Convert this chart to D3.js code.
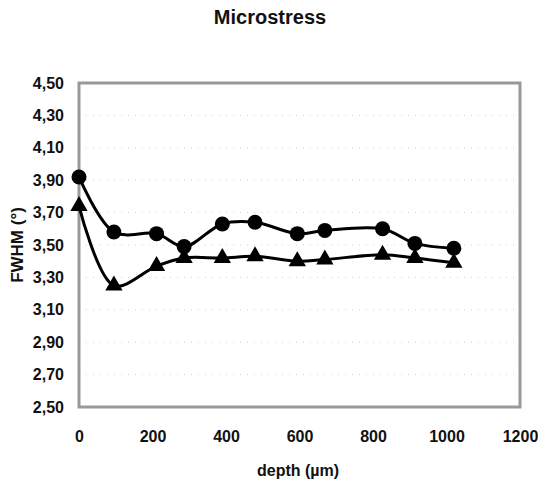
<!DOCTYPE html>
<html lang="en">
<head>
<meta charset="UTF-8">
<title>Microstress</title>
<style>
    body { margin: 0; background: #fff; }
    svg text { font-family: 'Liberation Sans', Arial, sans-serif; font-weight: bold; fill: #111; }
</style>
</head>
<body>
<svg id="chart" width="538" height="484"></svg>
<script src="https://d3js.org/d3.v7.min.js"></script>
<script>
    // depth in µm
    const depthCircles = [0, 95, 211, 286, 390, 479, 594, 669, 826, 914, 1020];
    const fwhmCircles = [3.92, 3.58, 3.57, 3.49, 3.63, 3.64, 3.57, 3.59, 3.60, 3.51, 3.48];
    const depthTriangles = [0, 95, 211, 286, 390, 479, 594, 669, 826, 914, 1020];
    const fwhmTriangles = [3.74, 3.25, 3.37, 3.42, 3.42, 3.43, 3.40, 3.41, 3.44, 3.42, 3.39];
    const xTicks = [0, 200, 400, 600, 800, 1000, 1200];
    const yTicks = [2.5, 2.7, 2.9, 3.1, 3.3, 3.5, 3.7, 3.9, 4.1, 4.3, 4.5];

    const svg = d3.select('#chart');
    const plot = { left: 79, top: 83, right: 520, bottom: 407 };

    const x = d3.scaleLinear().domain([0, 1200]).range([plot.left, plot.right]);
    const y = d3.scaleLinear().domain([2.5, 4.5]).range([plot.bottom, plot.top]);
    const fmt = v => d3.format('.2f')(v).replace('.', ',');

    // faint dotted gridlines
    svg.append('g')
        .selectAll('line')
        .data(yTicks.slice(1, -1))
        .join('line')
        .attr('x1', plot.left).attr('x2', plot.right)
        .attr('y1', d => y(d)).attr('y2', d => y(d))
        .attr('stroke', '#d0d0d0')
        .attr('stroke-width', 1)
        .attr('stroke-dasharray', '1,6');

    // plot border
    svg.append('rect')
        .attr('x', plot.left).attr('y', plot.top)
        .attr('width', plot.right - plot.left)
        .attr('height', plot.bottom - plot.top)
        .attr('fill', 'none')
        .attr('stroke', '#999')
        .attr('stroke-width', 3);

    // axes (labels only)
    const yAxis = svg.append('g')
        .attr('transform', `translate(${plot.left},0)`)
        .call(d3.axisLeft(y).tickValues(yTicks).tickFormat(fmt).tickSize(0).tickPadding(15));
    const xAxis = svg.append('g')
        .attr('transform', `translate(0,${plot.bottom})`)
        .call(d3.axisBottom(x).tickValues(xTicks).tickFormat(d3.format('d')).tickSize(0).tickPadding(24));
    [yAxis, xAxis].forEach(a => {
        a.select('.domain').remove();
        a.selectAll('text').style('font-size', '16px').attr('fill', '#111');
    });

    const line = d3.line()
        .x(d => x(d[0]))
        .y(d => y(d[1]))
        .curve(d3.curveCatmullRom.alpha(0.5));

    const circles = depthCircles.map((d, i) => [d, fwhmCircles[i]]);
    const triangles = depthTriangles.map((d, i) => [d, fwhmTriangles[i]]);

    [circles, triangles].forEach(s => {
        svg.append('path')
            .datum(s)
            .attr('d', line)
            .attr('fill', 'none')
            .attr('stroke', '#000')
            .attr('stroke-width', 3);
    });

    svg.append('g')
        .selectAll('circle')
        .data(circles)
        .join('circle')
        .attr('cx', d => x(d[0]))
        .attr('cy', d => y(d[1]))
        .attr('r', 7.5)
        .attr('fill', '#000');

    svg.append('g')
        .selectAll('path')
        .data(triangles)
        .join('path')
        .attr('transform', d => `translate(${x(d[0])},${y(d[1])})`)
        .attr('d', d3.symbol(d3.symbolTriangle, 130))
        .attr('fill', '#000');

    // titles
    svg.append('text')
        .attr('x', 270).attr('y', 24)
        .attr('text-anchor', 'middle')
        .style('font-size', '20px')
        .text('Microstress');

    svg.append('text')
        .attr('x', 298).attr('y', 476)
        .attr('text-anchor', 'middle')
        .style('font-size', '16px')
        .text('depth (µm)');

    svg.append('text')
        .attr('transform', 'translate(23,245) rotate(-90)')
        .attr('text-anchor', 'middle')
        .style('font-size', '17px')
        .text('FWHM (°)');
</script>
</body>
</html>
